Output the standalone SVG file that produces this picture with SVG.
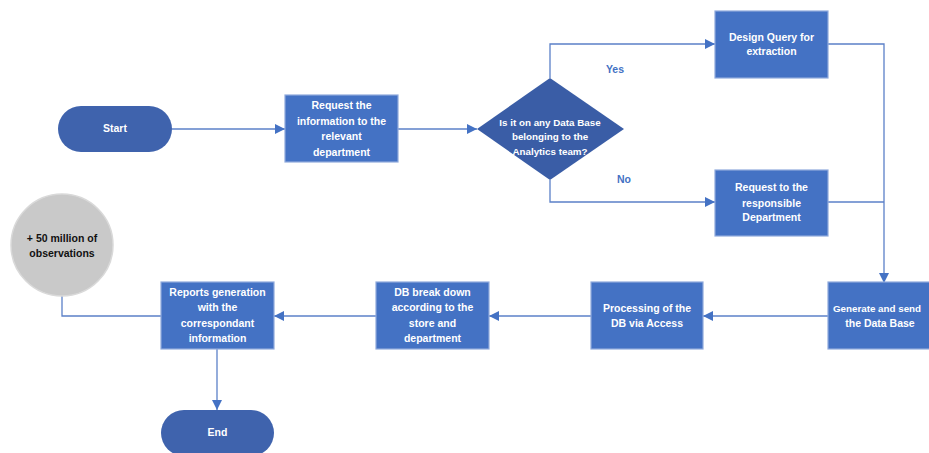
<svg xmlns="http://www.w3.org/2000/svg" width="929" height="453" viewBox="0 0 929 453">
<style>
.box{fill:#4472C4;stroke:#8FAADC;stroke-width:1.2}
.term{fill:#3F63AD}
.dia{fill:#3A5DA6}
.t{font-family:"Liberation Sans",Arial,sans-serif;font-size:10.5px;font-weight:bold;fill:#fff;text-anchor:middle;dominant-baseline:middle}
.s{font-size:9.8px}
.lbl{font-family:"Liberation Sans",Arial,sans-serif;font-size:10.5px;font-weight:bold;fill:#4472C4;text-anchor:middle;dominant-baseline:middle}
.ln{fill:none;stroke:#5B80C8;stroke-width:1.3}
.ct{font-family:"Liberation Sans",Arial,sans-serif;font-size:10.5px;font-weight:bold;fill:#111;text-anchor:middle;dominant-baseline:middle}
</style>
<defs>
<marker id="ah" viewBox="0 0 10 10" refX="10" refY="5" markerWidth="10" markerHeight="10" markerUnits="userSpaceOnUse" orient="auto">
<path d="M0,0 L10,5 L0,10 z" fill="#4472C4"/>
</marker>
</defs>
<rect width="929" height="453" fill="#fff"/>
<g id="connectors">
<path class="ln" d="M172,129 H285" marker-end="url(#ah)"/>
<path class="ln" d="M398,129 H477" marker-end="url(#ah)"/>
<path class="ln" d="M550,78 V44 H715" marker-end="url(#ah)"/>
<path class="ln" d="M550,180 V202 H715" marker-end="url(#ah)"/>
<path class="ln" d="M828,44 H884 V283" marker-end="url(#ah)"/>
<path class="ln" d="M828,202 H884"/>
<path class="ln" d="M828,316 H703" marker-end="url(#ah)"/>
<path class="ln" d="M591,316 H489" marker-end="url(#ah)"/>
<path class="ln" d="M376,316 H274" marker-end="url(#ah)"/>
<path class="ln" d="M62,296 V316 H161"/>
<path class="ln" d="M217,349 V410" marker-end="url(#ah)"/>
<text class="lbl" x="615" y="70">Yes</text>
<text class="lbl" x="624" y="180">No</text>
</g>
<g id="start">
<rect class="term" x="58" y="106" width="114" height="46" rx="23"/>
<text class="t" x="115" y="129">Start</text>
</g>
<g id="request-info">
<rect class="box" x="285" y="95" width="113" height="67"/>
<text class="t" x="341.5" y="106">Request the</text>
<text class="t" x="341.5" y="122">information to the</text>
<text class="t" x="341.5" y="137">relevant</text>
<text class="t" x="341.5" y="153">department</text>
</g>
<g id="decision">
<path class="dia" d="M550,78 L624,129 L550,180 L477,129 z"/>
<text class="t s" x="550" y="123">Is it on any Data Base</text>
<text class="t s" x="550" y="137">belonging to the</text>
<text class="t s" x="550" y="152">Analytics team?</text>
</g>
<g id="design-query">
<rect class="box" x="715" y="11" width="113" height="67"/>
<text class="t" x="771.5" y="38">Design Query for</text>
<text class="t" x="771.5" y="52">extraction</text>
</g>
<g id="request-responsible">
<rect class="box" x="715" y="170" width="113" height="66"/>
<text class="t" x="771.5" y="188">Request to the</text>
<text class="t" x="771.5" y="204">responsible</text>
<text class="t" x="771.5" y="218">Department</text>
</g>
<g id="generate">
<rect class="box" x="828" y="282" width="113" height="67"/>
<text class="t s" x="877" y="309">Generate and send</text>
<text class="t" x="880" y="324">the Data Base</text>
</g>
<g id="processing">
<rect class="box" x="591" y="282" width="112" height="67"/>
<text class="t" x="647" y="309">Processing of the</text>
<text class="t" x="647" y="324">DB via Access</text>
</g>
<g id="breakdown">
<rect class="box" x="376" y="282" width="113" height="67"/>
<text class="t" x="432.5" y="293">DB break down</text>
<text class="t" x="432.5" y="308">according to the</text>
<text class="t" x="432.5" y="324">store and</text>
<text class="t" x="432.5" y="339">department</text>
</g>
<g id="reports">
<rect class="box" x="161" y="282" width="113" height="67"/>
<text class="t" x="217.5" y="293">Reports generation</text>
<text class="t" x="217.5" y="308">with the</text>
<text class="t" x="217.5" y="324">correspondant</text>
<text class="t" x="217.5" y="339">information</text>
</g>
<g id="observations">
<circle cx="62" cy="245" r="51" fill="#C9C9C9" stroke="#D9D9D9" stroke-width="1.5"/>
<text class="ct" x="62" y="239">+ 50 million of</text>
<text class="ct" x="62" y="254">observations</text>
</g>
<g id="end">
<rect class="term" x="161" y="410" width="113" height="46" rx="23"/>
<text class="t" x="217.5" y="433">End</text>
</g>
</svg>
